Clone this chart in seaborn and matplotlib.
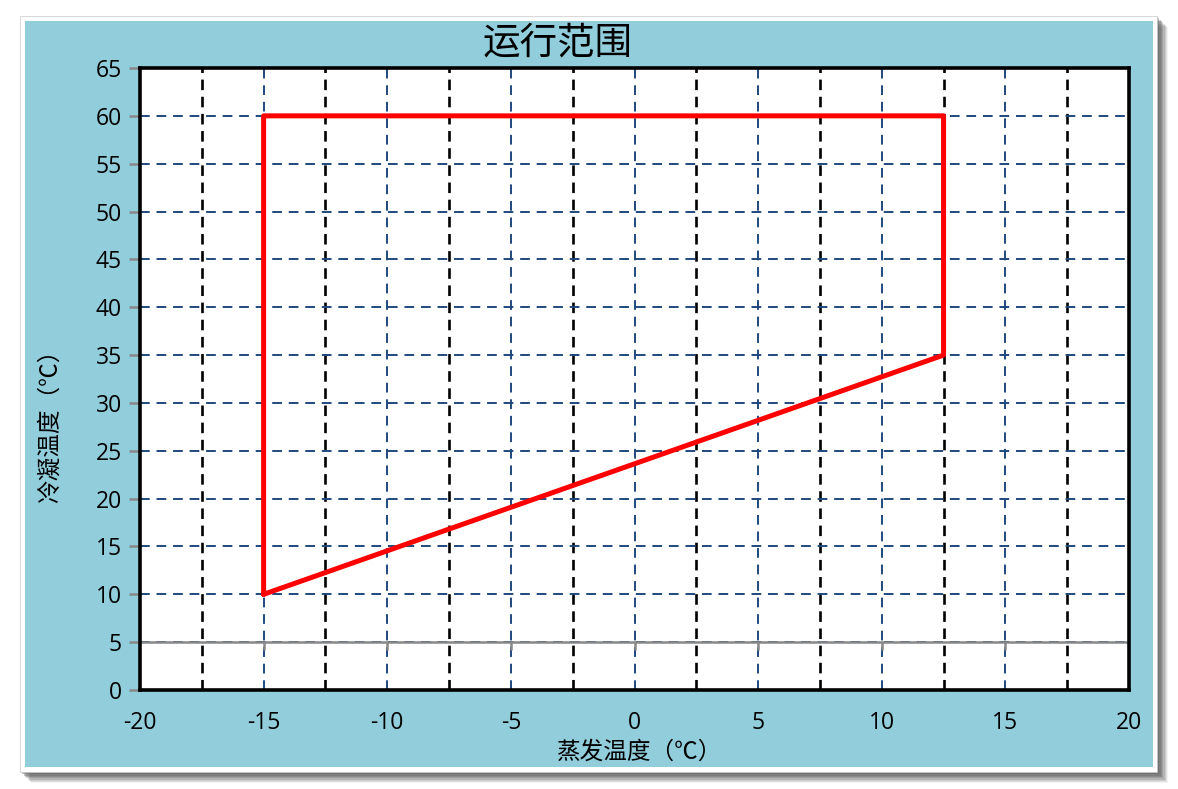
import matplotlib
matplotlib.use("Agg")
import matplotlib.pyplot as plt
import matplotlib.patches as mpatches
import numpy as np
import seaborn as sns

# operating envelope (evaporating temp vs condensing temp)
evap_temp = [-15, -15, 12.5, 12.5, -15]
cond_temp = [10, 60, 60, 35, 10]

x_ticks = [-20, -15, -10, -5, 0, 5, 10, 15, 20]
y_ticks = [0, 5, 10, 15, 20, 25, 30, 35, 40, 45, 50, 55, 60, 65]
x_minor = [-17.5, -12.5, -7.5, -2.5, 2.5, 7.5, 12.5, 17.5]
axis_cross = 5  # horizontal axis line crosses here

title = "运行范围"
x_label = "蒸发温度（℃）"
y_label = "冷凝温度（℃）"

sns.set_theme(style="white")
plt.rcParams["font.family"] = ["Noto Sans CJK SC", "DejaVu Sans"]
plt.rcParams["axes.unicode_minus"] = False

W, H = 1178, 789
fig = plt.figure(figsize=(W / 100, H / 100), dpi=100)
fig.patch.set_facecolor("white")

# frame: soft gray shadow, white border, blue panel
for i, a in enumerate(np.linspace(0.45, 0.08, 9)):
    off = 1 + i * 1.3
    fig.patches.append(mpatches.Rectangle(
        ((20 + off) / W, 1 - (772 + off) / H), 1137 / W, 756 / H,
        transform=fig.transFigure, facecolor="#666666", alpha=a,
        edgecolor="none", zorder=0))
fig.patches.append(mpatches.Rectangle(
    (20 / W, 1 - 772 / H), 1137 / W, 756 / H, transform=fig.transFigure,
    facecolor="white", edgecolor="#c8c8c8", lw=0.5, zorder=1))
fig.patches.append(mpatches.Rectangle(
    (25 / W, 1 - 767 / H), 1128 / W, 746 / H, transform=fig.transFigure,
    facecolor="#92CDDC", edgecolor="none", zorder=2))

ax = fig.add_axes([140 / W, 1 - 690 / H, 989 / W, 622 / H])
ax.set_zorder(5)
ax.set_facecolor("white")

ax.set_xlim(-20, 20)
ax.set_ylim(0, 65)
ax.set_xticks(x_ticks)
ax.set_yticks(y_ticks)
ax.set_xticks(x_minor, minor=True)

ax.grid(True, which="major", axis="both", color="#1F497D",
        linestyle=(0, (5, 3.5)), linewidth=1.4)
ax.grid(True, which="minor", axis="x", color="black",
        linestyle=(0, (4, 2.5)), linewidth=1.9)

# gray horizontal axis line with small downward ticks
ax.axhline(axis_cross, color="#888888", lw=1.8, zorder=2)
ax.vlines(x_ticks[1:], axis_cross - 0.8, axis_cross, color="#888888", lw=1.8, zorder=2)

sns.lineplot(x=evap_temp, y=cond_temp, sort=False, estimator=None,
             color="#FF0000", linewidth=3.6, ax=ax, zorder=4)

for side in ["top", "right", "bottom", "left"]:
    ax.spines[side].set_color("black")
    ax.spines[side].set_linewidth(2.6)
    ax.spines[side].set_visible(True)

ax.tick_params(axis="y", which="major", left=True, length=8, width=1.8,
               color="#888888", pad=5, labelsize=16.5)
ax.tick_params(axis="x", which="both", bottom=False, pad=9, labelsize=16.5)
ax.tick_params(axis="x", which="minor", bottom=False)
for lab in ax.get_xticklabels() + ax.get_yticklabels():
    lab.set_fontfamily(["Open Sans", "DejaVu Sans"])
    lab.set_color("black")

fig.text(558 / W, 1 - 43 / H, title, ha="center", va="center",
         fontsize=27, color="black")
fig.text(640 / W, 1 - 752 / H, x_label, ha="center", va="center",
         fontsize=17, color="black")
fig.text(50 / W, 1 - 420 / H, y_label, ha="center", va="center",
         fontsize=17, rotation=90, color="black")

fig.savefig("out.png", dpi=100, facecolor=fig.get_facecolor())
